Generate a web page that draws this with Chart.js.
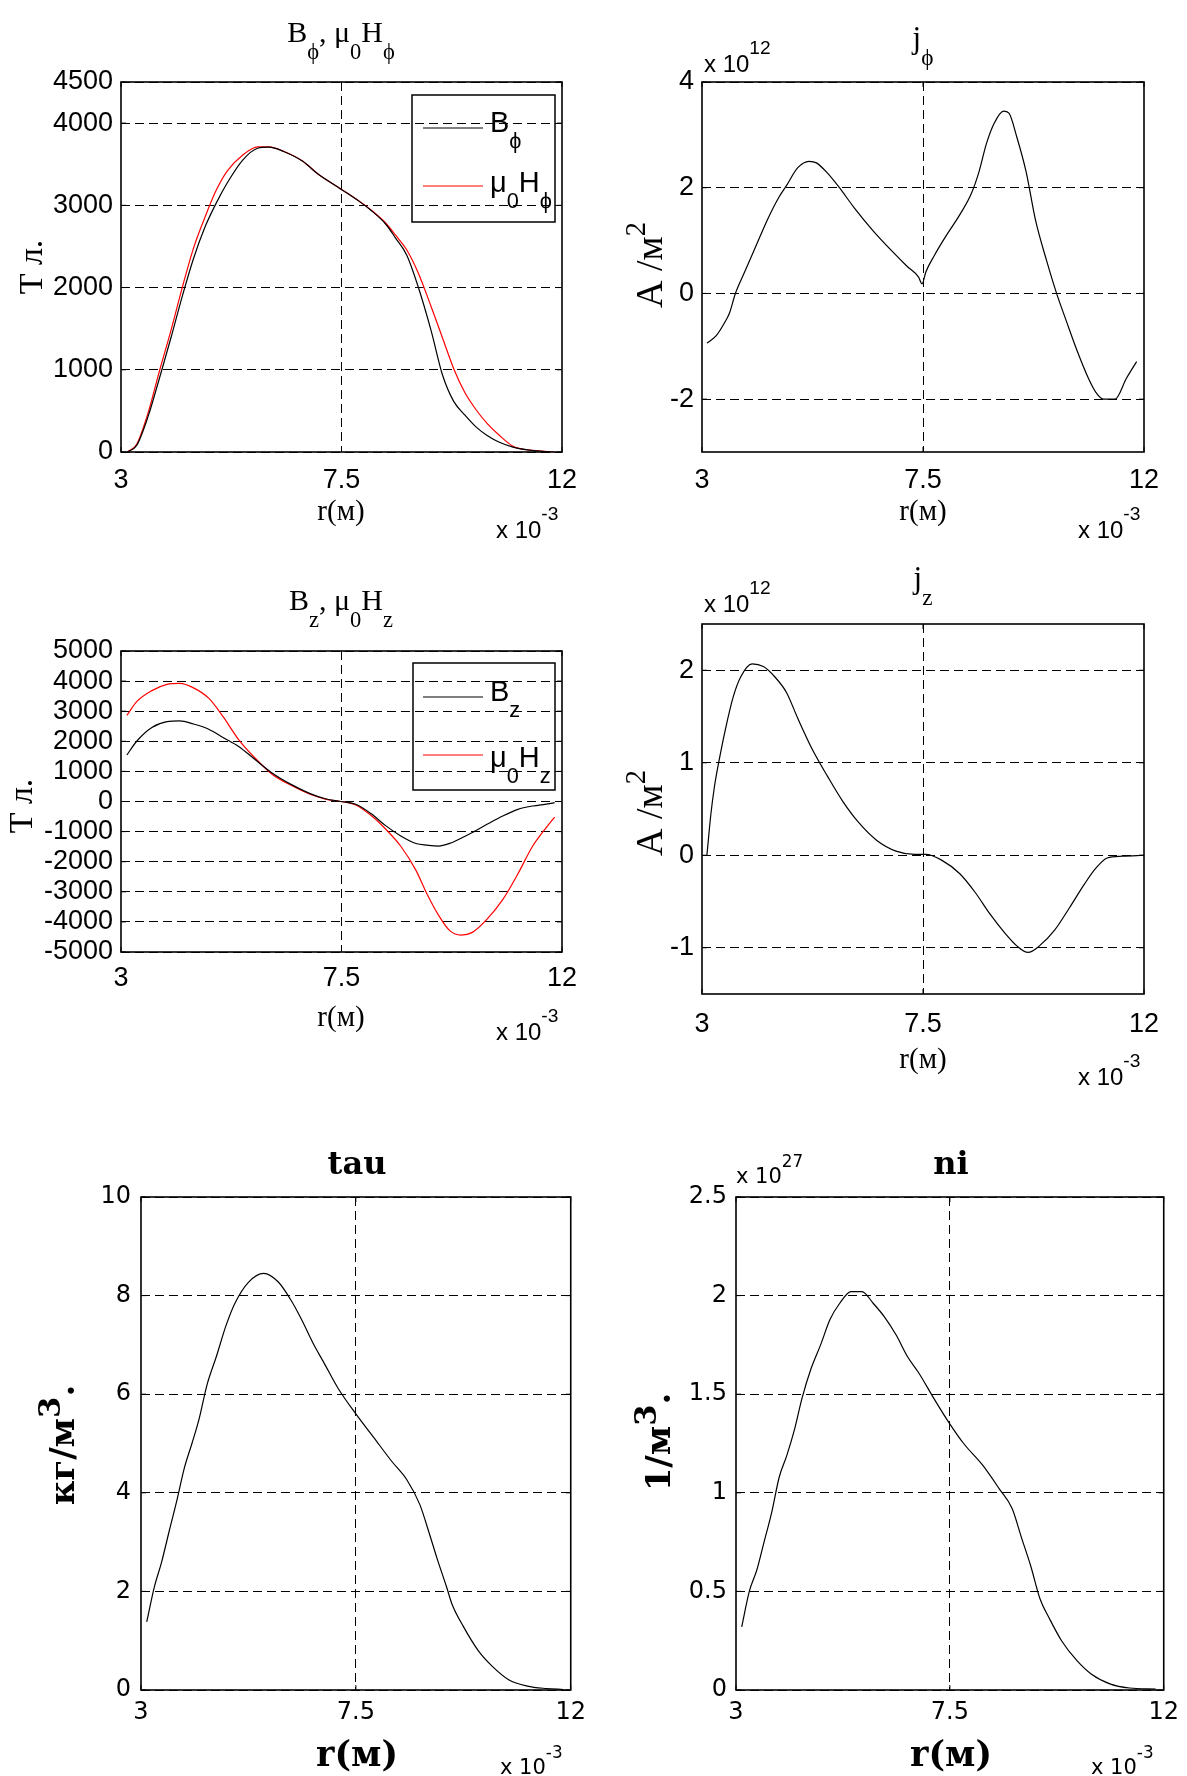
<!DOCTYPE html>
<html>
<head>
<meta charset="utf-8">
<script src="https://cdn.jsdelivr.net/npm/chart.js@4.4.0/dist/chart.umd.min.js"></script>
<style>
html, body { margin: 0; padding: 0; background: #fff; }
#page { position: relative; width: 1187px; height: 1776px; overflow: hidden; background: #fff; }
#page canvas { position: absolute; }
</style>
</head>
<body>
<div id="page">
  <canvas id="c1"></canvas>
  <canvas id="c2"></canvas>
  <canvas id="c3"></canvas>
  <canvas id="c4"></canvas>
  <canvas id="c5"></canvas>
  <canvas id="c6"></canvas>
</div>
<script>
// ---------------------
// Data (r in units of 1e-3 m)
// ---------------------

const xTicks = [3, 7.5, 12];

// B_phi, mu0 H_phi
const rPhi = [3.13, 3.32, 3.55, 3.78, 4.02, 4.25, 4.48, 4.71, 4.94, 5.17, 5.48, 5.79, 6.02, 6.33, 6.71, 7.02, 7.48, 7.87, 8.10, 8.40, 8.60, 8.83, 9.06, 9.33, 9.56, 9.79, 10.02, 10.25, 10.48, 10.71, 11.0, 11.3, 11.6, 11.85];
const bPhi = [0, 80, 427, 888, 1390, 1893, 2354, 2731, 3024, 3275, 3548, 3694, 3707, 3652, 3535, 3380, 3200, 3045, 2940, 2773, 2605, 2396, 2019, 1474, 940, 616, 448, 302, 197, 121, 59, 25, 8, -10];
const hPhi = [0, 95, 470, 975, 1480, 2000, 2480, 2850, 3180, 3420, 3610, 3712, 3712, 3655, 3537, 3382, 3202, 3047, 2945, 2785, 2640, 2460, 2186, 1767, 1390, 1013, 720, 511, 343, 209, 70, 25, 10, 0];
const ticksPhi = [0, 1000, 2000, 3000, 4000, 4500];

// j_phi (x 1e12)
const rJphi = [3.10, 3.29, 3.45, 3.56, 3.68, 3.87, 4.10, 4.33, 4.56, 4.72, 4.95, 5.18, 5.33, 5.56, 5.79, 6.10, 6.48, 6.87, 7.18, 7.41, 7.48, 7.56, 7.72, 7.95, 8.25, 8.48, 8.64, 8.79, 8.95, 9.14, 9.25, 9.41, 9.60, 9.79, 10.02, 10.22, 10.41, 10.64, 10.87, 11.02, 11.18, 11.41, 11.64, 11.85];
const jPhi = [-0.94, -0.80, -0.57, -0.37, 0, 0.41, 0.90, 1.39, 1.81, 2.04, 2.38, 2.50, 2.47, 2.27, 2.01, 1.62, 1.19, 0.80, 0.51, 0.31, 0.18, 0.41, 0.70, 1.06, 1.49, 1.88, 2.30, 2.83, 3.22, 3.45, 3.41, 2.96, 2.30, 1.39, 0.61, 0, -0.50, -1.09, -1.61, -1.87, -2.0, -2.0, -1.61, -1.29];
const ticksJphi = [-2, 0, 2, 4];

// B_z, mu0 H_z
const rZ = [3.12, 3.32, 3.63, 3.94, 4.20, 4.48, 4.79, 5.09, 5.40, 5.71, 6.09, 6.48, 6.86, 7.17, 7.48, 7.79, 8.10, 8.40, 8.71, 9.02, 9.25, 9.48, 9.71, 9.94, 10.17, 10.48, 10.79, 11.1, 11.4, 11.71, 11.85];
const bZ = [1545, 2002, 2460, 2654, 2677, 2574, 2403, 2117, 1831, 1430, 940, 560, 263, 92, 0, -92, -400, -801, -1144, -1396, -1450, -1480, -1390, -1220, -1030, -750, -480, -260, -150, -80, -40];
const hZ = [2860, 3318, 3684, 3890, 3924, 3776, 3432, 2803, 2059, 1487, 900, 530, 240, 80, 0, -114, -458, -915, -1487, -2288, -3089, -3776, -4291, -4439, -4348, -3890, -3261, -2403, -1487, -801, -515];
const ticksZ = [-5000, -4000, -3000, -2000, -1000, 0, 1000, 2000, 3000, 4000, 5000];

// j_z (x 1e12)
const rJz = [3.10, 3.18, 3.25, 3.35, 3.48, 3.64, 3.79, 4.02, 4.25, 4.48, 4.72, 4.95, 5.25, 5.56, 5.87, 6.18, 6.56, 6.95, 7.33, 7.56, 7.87, 8.25, 8.56, 8.87, 9.18, 9.41, 9.64, 9.87, 10.18, 10.48, 10.79, 11.02, 11.25, 11.56, 12.0];
const jZ = [0, 0.44, 0.73, 1.03, 1.37, 1.72, 1.93, 2.07, 2.04, 1.93, 1.76, 1.48, 1.14, 0.85, 0.58, 0.36, 0.16, 0.045, 0.01, 0.01, -0.05, -0.20, -0.40, -0.64, -0.85, -0.98, -1.05, -0.98, -0.81, -0.57, -0.31, -0.14, -0.03, -0.01, 0];
const ticksJz = [-1, 0, 1, 2];

// tau
const rTau = [3.12, 3.28, 3.43, 3.59, 3.75, 3.91, 4.07, 4.22, 4.38, 4.58, 4.78, 4.97, 5.25, 5.57, 5.88, 6.12, 6.36, 6.59, 6.83, 7.14, 7.50, 7.86, 8.25, 8.57, 8.84, 9.04, 9.20, 9.40, 9.51, 9.75, 10.07, 10.38, 10.70, 11.09, 11.49, 11.84];
const tau = [1.38, 2.09, 2.59, 3.22, 3.84, 4.51, 5.01, 5.51, 6.18, 6.77, 7.39, 7.85, 8.27, 8.45, 8.27, 7.94, 7.52, 7.06, 6.64, 6.10, 5.60, 5.14, 4.64, 4.26, 3.76, 3.17, 2.67, 2.09, 1.75, 1.29, 0.79, 0.46, 0.21, 0.08, 0.03, 0.01];
const ticksTau = [0, 2, 4, 6, 8, 10];

// ni (x 1e27)
const rNi = [3.12, 3.28, 3.44, 3.59, 3.75, 3.91, 4.07, 4.23, 4.39, 4.58, 4.78, 4.98, 5.18, 5.42, 5.65, 5.89, 6.13, 6.37, 6.61, 6.84, 7.16, 7.47, 7.79, 8.19, 8.54, 8.81, 9.01, 9.20, 9.40, 9.60, 9.85, 10.17, 10.48, 10.88, 11.28, 11.83];
const ni = [0.32, 0.50, 0.61, 0.75, 0.90, 1.08, 1.19, 1.32, 1.48, 1.63, 1.75, 1.88, 1.96, 2.02, 2.02, 1.96, 1.89, 1.80, 1.69, 1.61, 1.48, 1.36, 1.25, 1.14, 1.02, 0.92, 0.77, 0.63, 0.46, 0.36, 0.25, 0.15, 0.08, 0.03, 0.01, 0.004];
const ticksNi = [0, 0.5, 1, 1.5, 2, 2.5];

// ---------------------
// Fonts
// ---------------------

const SANS = "'Liberation Sans', Arial, sans-serif";
const SERIF = "'Liberation Serif', 'Times New Roman', serif";
const WIDE = "'DejaVu Sans', Verdana, sans-serif";
const BSERIF = "'DejaVu Serif', serif";

// ---------------------
// Text helpers (sub/superscripts)
// ---------------------

function parseSegs(it){
    const size = it.size;
    const up = it.supShift || 0.75;
    const supSize = it.supSize || 0.8;
    return it.segs.map(s=>{
        if(s[0]==="_") return {t:s.slice(1), size:size*0.75, dy:size*0.55};
        if(s[0]==="^") return {t:s.slice(1), size:size*supSize, dy:-size*up};
        return {t:s, size:size, dy:0};
    });
}

function drawRich(ctx, it, ox, oy){
    const parts = parseSegs(it);
    const weight = it.bold ? "bold " : "";
    ctx.save();
    ctx.fillStyle = "#000";
    ctx.textBaseline = "alphabetic";
    ctx.textAlign = "left";
    let total = 0;
    parts.forEach(p=>{
        ctx.font = weight + p.size + "px " + it.family;
        p.w = ctx.measureText(p.t).width;
        total += p.w;
    });
    ctx.translate(it.x - ox, it.y - oy);
    if(it.rot) ctx.rotate(it.rot);
    let x = it.align === "center" ? -total/2 : 0;
    parts.forEach(p=>{
        ctx.font = weight + p.size + "px " + it.family;
        ctx.fillText(p.t, x, p.dy);
        x += p.w;
    });
    ctx.restore();
}

function makeNotes(items, legend, box){
    return {
        id:"notes",
        afterDraw(chart){
            const ctx = chart.ctx;
            items.forEach(it=>drawRich(ctx, it, box.x, box.y));
            if(legend){
                ctx.save();
                ctx.strokeStyle = "#000";
                ctx.lineWidth = 1.5;
                ctx.strokeRect(legend.l - box.x, legend.t - box.y, legend.r - legend.l, legend.b - legend.t);
                legend.rows.forEach((row, i)=>{
                    const ds = chart.data.datasets[i];
                    ctx.strokeStyle = ds.borderColor;
                    ctx.lineWidth = 1.2;
                    ctx.beginPath();
                    ctx.moveTo(legend.x1 - box.x, row.y - box.y);
                    ctx.lineTo(legend.x2 - box.x, row.y - box.y);
                    ctx.stroke();
                    drawRich(ctx, {x:legend.tx, y:row.base, segs:row.segs, size:29, family:SANS}, box.x, box.y);
                });
                ctx.restore();
            }
        }
    };
}

const framePlugin = {
    id:"frame",
    afterDatasetsDraw(chart){
        const {ctx, chartArea:a, scales} = chart;
        ctx.save();
        ctx.setLineDash([]);
        ctx.strokeStyle = "#000";
        ctx.lineWidth = 1;
        ctx.beginPath();
        scales.y.ticks.forEach(t=>{
            const y = scales.y.getPixelForValue(t.value);
            ctx.moveTo(a.left, y); ctx.lineTo(a.left + 5, y);
            ctx.moveTo(a.right, y); ctx.lineTo(a.right - 5, y);
        });
        scales.x.ticks.forEach(t=>{
            const x = scales.x.getPixelForValue(t.value);
            ctx.moveTo(x, a.bottom); ctx.lineTo(x, a.bottom - 5);
            ctx.moveTo(x, a.top); ctx.lineTo(x, a.top + 5);
        });
        ctx.stroke();
        ctx.lineWidth = 1.6;
        ctx.strokeRect(a.left, a.top, a.right - a.left, a.bottom - a.top);
        ctx.restore();
    }
};

function pts(xs, ys){
    return xs.map((x,i)=>({x:x, y:ys[i]}));
}

// ---------------------
// Panel builder
// ---------------------

function panel(id, box, area, cfg){

    const canvas = document.getElementById(id);
    canvas.width = box.w;
    canvas.height = box.h;
    canvas.style.left = box.x + "px";
    canvas.style.top = box.y + "px";

    const tickFont = cfg.tickFont;

    new Chart(canvas, {
        type:"line",
        data:{
            datasets: cfg.series.map(s=>({
                data: pts(s.x, s.y),
                borderColor: s.color,
                borderWidth: 1.2,
                pointRadius: 0,
                fill: false,
                cubicInterpolationMode: "monotone"
            }))
        },
        options:{
            responsive:false,
            animation:false,
            devicePixelRatio:1,
            layout:{ padding:{ top: area.t - box.y, right: box.x + box.w - area.r, left:0, bottom:0 } },
            plugins:{ legend:{display:false}, tooltip:{enabled:false} },
            scales:{
                x:{
                    type:"linear",
                    min:3, max:12,
                    afterBuildTicks: s=>{ s.ticks = xTicks.map(v=>({value:v})); },
                    afterFit: s=>{ s.height = box.y + box.h - area.b; },
                    grid:{ color: c=> (c.tick && c.tick.value === 7.5) ? "#000" : "rgba(0,0,0,0)", lineWidth:1, drawTicks:false },
                    border:{ display:false, dash:[9,5] },
                    ticks:{ color:"#000", font:tickFont, padding:cfg.xPad, maxRotation:0, autoSkip:false, callback: v=>String(v) }
                },
                y:{
                    type:"linear",
                    min:cfg.yMin, max:cfg.yMax,
                    afterBuildTicks: s=>{ s.ticks = cfg.yTicks.map(v=>({value:v})); },
                    afterFit: s=>{ s.width = area.l - box.x; },
                    grid:{ color:"#000", lineWidth:1, drawTicks:false },
                    border:{ display:false, dash:[9,5] },
                    ticks:{ color:"#000", font:tickFont, padding:cfg.yPad, autoSkip:false, callback: v=>String(v) }
                }
            }
        },
        plugins:[framePlugin, makeNotes(cfg.notes, cfg.legend, box)]
    });
}

const topFont = {family:SANS, size:27};
const lowFont = {family:WIDE, size:24};
const HALF_PI = -Math.PI/2;

// ---------------------
// Panels
// ---------------------

panel("c1", {x:0, y:0, w:594, h:560}, {l:121, t:82, r:562, b:452}, {
    yMin:0, yMax:4500, yTicks:ticksPhi, tickFont:topFont, xPad:12, yPad:8,
    series:[ {x:rPhi, y:bPhi, color:"#000"}, {x:rPhi, y:hPhi, color:"#ff0000"} ],
    notes:[
        {x:341, y:42, segs:["B","_ϕ",", μ","_0","H","_ϕ"], size:30, family:SERIF, align:"center"},
        {x:42, y:267, segs:["Т л."], size:34, family:SERIF, align:"center", rot:HALF_PI},
        {x:341, y:520, segs:["r(м)"], size:29, family:SERIF, align:"center"},
        {x:496, y:538, segs:["x 10","^-3"], size:24, family:SANS}
    ],
    legend:{ l:412, t:95, r:555, b:222, x1:423, x2:483, tx:490,
        rows:[ {y:128, base:132, segs:["B","_ϕ"]}, {y:186, base:192, segs:["μ","_0","H","_ϕ"]} ] }
});

panel("c2", {x:594, y:0, w:593, h:560}, {l:702, t:82, r:1144, b:452}, {
    yMin:-3, yMax:4, yTicks:ticksJphi, tickFont:topFont, xPad:12, yPad:8,
    series:[ {x:rJphi, y:jPhi, color:"#000"} ],
    notes:[
        {x:923, y:48, segs:["j","_ϕ"], size:31, family:SERIF, align:"center"},
        {x:704, y:72, segs:["x 10","^12"], size:24, family:SANS},
        {x:662, y:265, segs:["A /м","^2"], size:38, family:SERIF, align:"center", rot:HALF_PI, supShift:0.45, supSize:0.75},
        {x:923, y:520, segs:["r(м)"], size:29, family:SERIF, align:"center"},
        {x:1078, y:538, segs:["x 10","^-3"], size:24, family:SANS}
    ]
});

panel("c3", {x:0, y:560, w:594, h:550}, {l:121, t:651, r:562, b:952}, {
    yMin:-5000, yMax:5000, yTicks:ticksZ, tickFont:topFont, xPad:10, yPad:8,
    series:[ {x:rZ, y:bZ, color:"#000"}, {x:rZ, y:hZ, color:"#ff0000"} ],
    notes:[
        {x:341, y:610, segs:["B","_z",", μ","_0","H","_z"], size:30, family:SERIF, align:"center"},
        {x:32, y:806, segs:["Т л."], size:34, family:SERIF, align:"center", rot:HALF_PI},
        {x:341, y:1026, segs:["r(м)"], size:29, family:SERIF, align:"center"},
        {x:496, y:1040, segs:["x 10","^-3"], size:24, family:SANS}
    ],
    legend:{ l:413, t:663, r:555, b:790, x1:423, x2:483, tx:490,
        rows:[ {y:697, base:701, segs:["B","_z"]}, {y:755, base:767, segs:["μ","_0","H","_z"]} ] }
});

panel("c4", {x:594, y:560, w:593, h:550}, {l:702, t:624, r:1144, b:994}, {
    yMin:-1.5, yMax:2.5, yTicks:ticksJz, tickFont:topFont, xPad:14, yPad:8,
    series:[ {x:rJz, y:jZ, color:"#000"} ],
    notes:[
        {x:923, y:588, segs:["j","_z"], size:31, family:SERIF, align:"center"},
        {x:704, y:612, segs:["x 10","^12"], size:24, family:SANS},
        {x:662, y:813, segs:["A /м","^2"], size:38, family:SERIF, align:"center", rot:HALF_PI, supShift:0.45, supSize:0.75},
        {x:923, y:1068, segs:["r(м)"], size:29, family:SERIF, align:"center"},
        {x:1078, y:1085, segs:["x 10","^-3"], size:24, family:SANS}
    ]
});

panel("c5", {x:0, y:1110, w:594, h:666}, {l:141, t:1197, r:573, b:1690}, {
    yMin:0, yMax:10, yTicks:ticksTau, tickFont:lowFont, xPad:8, yPad:10,
    series:[ {x:rTau, y:tau, color:"#000"} ],
    notes:[
        {x:357, y:1174, segs:["tau"], size:32, family:BSERIF, bold:true, align:"center"},
        {x:74, y:1445, segs:["кг/м","^3","."], size:34, family:BSERIF, bold:true, align:"center", rot:HALF_PI, supShift:0.42, supSize:0.9},
        {x:357, y:1766, segs:["r(м)"], size:35, family:BSERIF, bold:true, align:"center"},
        {x:500, y:1774, segs:["x 10","^-3"], size:21, family:WIDE}
    ]
});

panel("c6", {x:594, y:1110, w:593, h:666}, {l:736, t:1197, r:1166, b:1690}, {
    yMin:0, yMax:2.5, yTicks:ticksNi, tickFont:lowFont, xPad:8, yPad:9,
    series:[ {x:rNi, y:ni, color:"#000"} ],
    notes:[
        {x:951, y:1174, segs:["ni"], size:32, family:BSERIF, bold:true, align:"center"},
        {x:736, y:1183, segs:["x 10","^27"], size:21, family:WIDE},
        {x:670, y:1442, segs:["1/м","^3","."], size:34, family:BSERIF, bold:true, align:"center", rot:HALF_PI, supShift:0.42, supSize:0.9},
        {x:951, y:1766, segs:["r(м)"], size:35, family:BSERIF, bold:true, align:"center"},
        {x:1091, y:1774, segs:["x 10","^-3"], size:21, family:WIDE}
    ]
});
</script>
</body>
</html>
